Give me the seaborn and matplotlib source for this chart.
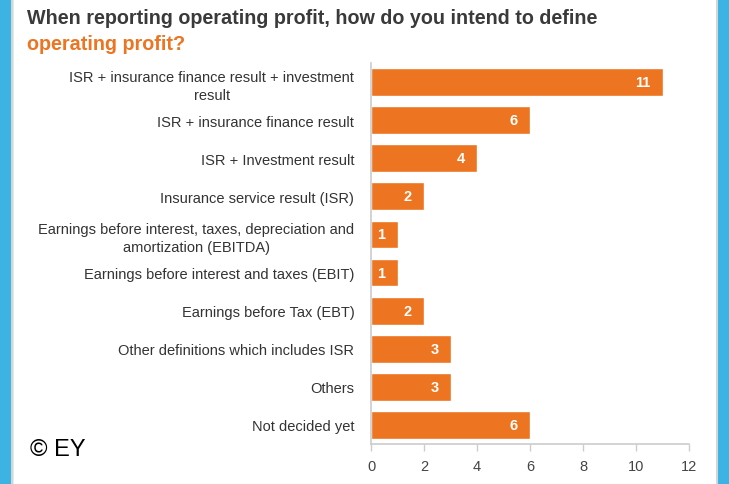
import matplotlib
matplotlib.use('Agg')
from matplotlib import pyplot as plt
from matplotlib.patches import Rectangle
import seaborn as sns
import pandas as pd

categories = [
    'ISR + insurance finance result + investment\nresult',
    'ISR + insurance finance result',
    'ISR + Investment result',
    'Insurance service result (ISR)',
    'Earnings before interest, taxes, depreciation and\namortization (EBITDA)',
    'Earnings before interest and taxes (EBIT)',
    'Earnings before Tax (EBT)',
    'Other definitions which includes ISR',
    'Others',
    'Not decided yet',
]
counts = [11, 6, 4, 2, 1, 1, 2, 3, 3, 6]
x_ticks = [0, 2, 4, 6, 8, 10, 12]

df = pd.DataFrame({'definition': categories, 'count': counts})

sns.set_style('white')
plt.rcParams['font.family'] = ['Liberation Sans', 'DejaVu Sans']

orange = '#ED7420'
fig = plt.figure(figsize=(7.29, 4.85), dpi=100)
fig.patch.set_facecolor('white')

# blue side frame and light grey panel border
fig.patches.append(Rectangle((0, 0), 12 / 729, 1, transform=fig.transFigure, color='#3DB3E3', zorder=0))
fig.patches.append(Rectangle((717 / 729, 0), 12 / 729, 1, transform=fig.transFigure, color='#3DB3E3', zorder=0))
fig.patches.append(Rectangle((12 / 729, -0.01), 705 / 729, 1.02, transform=fig.transFigure,
                             fill=False, edgecolor='#D5D5D5', linewidth=1.5, zorder=0))

ax = fig.add_axes([371 / 729, 1 - 445 / 485, 318 / 729, 381 / 485])
sns.barplot(data=df, x='count', y='definition', orient='h', color=orange,
            saturation=1, width=0.73, ax=ax)

for i, v in enumerate(counts):
    ax.text(v - 0.45, i, str(v), ha='right', va='center', color='white',
            fontsize=10.5, fontweight='bold')

ax.set_xlim(0, 12)
ax.set_ylim(9.5, -0.5)
ax.set_xticks(x_ticks)
ax.set_xlabel('')
ax.set_ylabel('')
ax.tick_params(axis='y', length=0, pad=12, labelsize=10.5, labelcolor='#333333')
ax.tick_params(axis='x', length=5, width=1, color='#CCCCCC', labelsize=10.5,
               labelcolor='#444444', pad=6, direction='out', bottom=True)
for lbl in ax.get_yticklabels():
    lbl.set_multialignment('center')
    lbl.set_linespacing(1.4)
for side in ['top', 'right']:
    ax.spines[side].set_visible(False)
for side in ['left', 'bottom']:
    ax.spines[side].set_color('#CCCCCC')
    ax.spines[side].set_linewidth(1.2)

fig.text(27 / 729, 1 - 19 / 485, 'When reporting operating profit, how do you intend to define',
         fontsize=14.2, fontweight='bold', color='#3A3A3A', va='center')
fig.text(27 / 729, 1 - 45 / 485, 'operating profit?', fontsize=14.2, fontweight='bold',
         color=orange, va='center')
fig.text(30 / 729, 1 - 450 / 485, '© EY', fontsize=17, color='black', va='center')

fig.savefig('out.png', dpi=100, facecolor='white')
